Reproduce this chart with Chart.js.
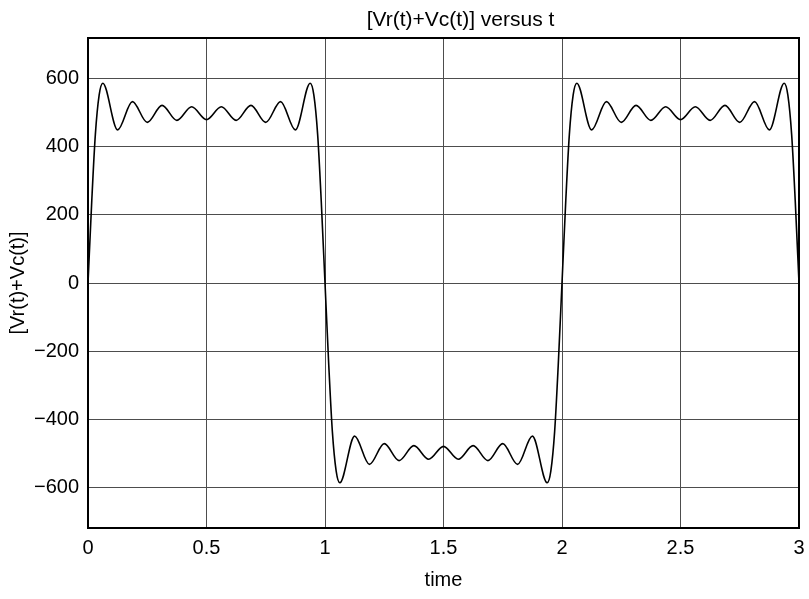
<!DOCTYPE html>
<html>
<head>
<meta charset="utf-8">
<script src="https://cdn.jsdelivr.net/npm/chart.js@4.4.1/dist/chart.umd.min.js"></script>
<style>
  html, body { margin: 0; padding: 0; background: #fff; }
  #wrap { width: 809px; height: 599px; }
</style>
</head>
<body>
<div id="wrap"><canvas id="chart" width="809" height="599"></canvas></div>
<script>
// values
const chartTitle = '[Vr(t)+Vc(t)] versus t';
const xLabel = 'time';
const yLabel = '[Vr(t)+Vc(t)]';

const xTicks = [0, 0.5, 1, 1.5, 2, 2.5, 3];
const yTicks = [-600, -400, -200, 0, 200, 400, 600];

const timeVals = [
    0, 0.016, 0.031, 0.047, 0.0625, 0.125, 0.1875, 0.25, 0.3125, 0.375, 0.4375,
    0.5, 0.5625, 0.625, 0.6875, 0.75, 0.8125, 0.875, 0.9375, 0.953, 0.969, 0.984,
    1, 1.016, 1.031, 1.047, 1.0625, 1.125, 1.1875, 1.25, 1.3125, 1.375, 1.4375,
    1.5, 1.5625, 1.625, 1.6875, 1.75, 1.8125, 1.875, 1.9375, 1.953, 1.969, 1.984,
    2, 2.016, 2.031, 2.047, 2.0625, 2.125, 2.1875, 2.25, 2.3125, 2.375, 2.4375,
    2.5, 2.5625, 2.625, 2.6875, 2.75, 2.8125, 2.875, 2.9375, 2.953, 2.969, 2.984, 3
];
const voltVals = [
    0, 243, 436, 552, 587, 450, 533, 472, 522, 478, 518,
    480, 518, 478, 522, 472, 533, 450, 587, 552, 436, 243,
    0, -243, -436, -552, -587, -450, -533, -472, -522, -478, -518,
    -480, -518, -478, -522, -472, -533, -450, -587, -552, -436, -243,
    0, 243, 436, 552, 587, 450, 533, 472, 522, 478, 518,
    480, 518, 478, 522, 472, 533, 450, 587, 552, 436, 243, 0
];

const FONT = '"Liberation Sans", Arial, Helvetica, sans-serif';
const minus = v => (v < 0 ? '\u2212' + Math.abs(v) : String(v));

// frame round the plot + title (not centred on the plot in the original)
const framePlugin = {
    id: 'frame',
    beforeDatasetsDraw(chart) {
        const { ctx, chartArea: a } = chart;
        ctx.save();
        ctx.strokeStyle = '#000';
        ctx.lineWidth = 2;
        ctx.strokeRect(a.left, a.top, a.right - a.left, a.bottom - a.top);
        ctx.restore();
    },
    afterDraw(chart) {
        const { ctx, chartArea: a } = chart;
        ctx.save();
        ctx.font = '21px ' + FONT;
        ctx.fillStyle = '#000';
        ctx.textAlign = 'center';
        ctx.textBaseline = 'alphabetic';
        ctx.fillText(chartTitle, (a.left + a.right) / 2 + 17, 26);
        ctx.restore();
    }
};

const points = timeVals.map((t, i) => ({ x: t, y: voltVals[i] }));

new Chart(document.getElementById('chart'), {
    type: 'line',
    data: {
        datasets: [{
            data: points,
            borderColor: '#000',
            borderWidth: 1.6,
            pointRadius: 0,
            fill: false,
            cubicInterpolationMode: 'monotone'
        }]
    },
    options: {
        responsive: false,
        animation: false,
        devicePixelRatio: 1,
        layout: { padding: { top: 38, right: 10, left: 0, bottom: 0 } },
        plugins: { legend: { display: false }, tooltip: { enabled: false } },
        scales: {
            x: {
                type: 'linear',
                min: 0,
                max: 3,
                afterBuildTicks: s => { s.ticks = xTicks.map(v => ({ value: v })); },
                afterFit: s => { s.height = 71; s.paddingLeft = 0; s.paddingRight = 0; },
                grid: { color: '#4d4d4d', lineWidth: 1, drawTicks: false },
                border: { display: false },
                ticks: {
                    padding: 8, color: '#000', maxRotation: 0, autoSkip: false,
                    font: { family: FONT, size: 20 },
                    callback: v => String(v)
                },
                title: {
                    display: true, text: xLabel, color: '#000',
                    font: { family: FONT, size: 20 },
                    padding: { top: 0, bottom: 7 }
                }
            },
            y: {
                type: 'linear',
                min: -720,
                max: 720,
                afterBuildTicks: s => { s.ticks = yTicks.map(v => ({ value: v })); },
                afterFit: s => { s.width = 88; s.paddingTop = 0; s.paddingBottom = 0; },
                grid: { color: '#4d4d4d', lineWidth: 1, drawTicks: false },
                border: { display: false },
                ticks: {
                    padding: 9, color: '#000', autoSkip: false,
                    font: { family: FONT, size: 20 },
                    callback: v => minus(v)
                },
                title: {
                    display: true, text: yLabel, color: '#000',
                    font: { family: FONT, size: 20 },
                    padding: { top: 6, bottom: 0 }
                }
            }
        }
    },
    plugins: [framePlugin]
});
</script>
</body>
</html>
